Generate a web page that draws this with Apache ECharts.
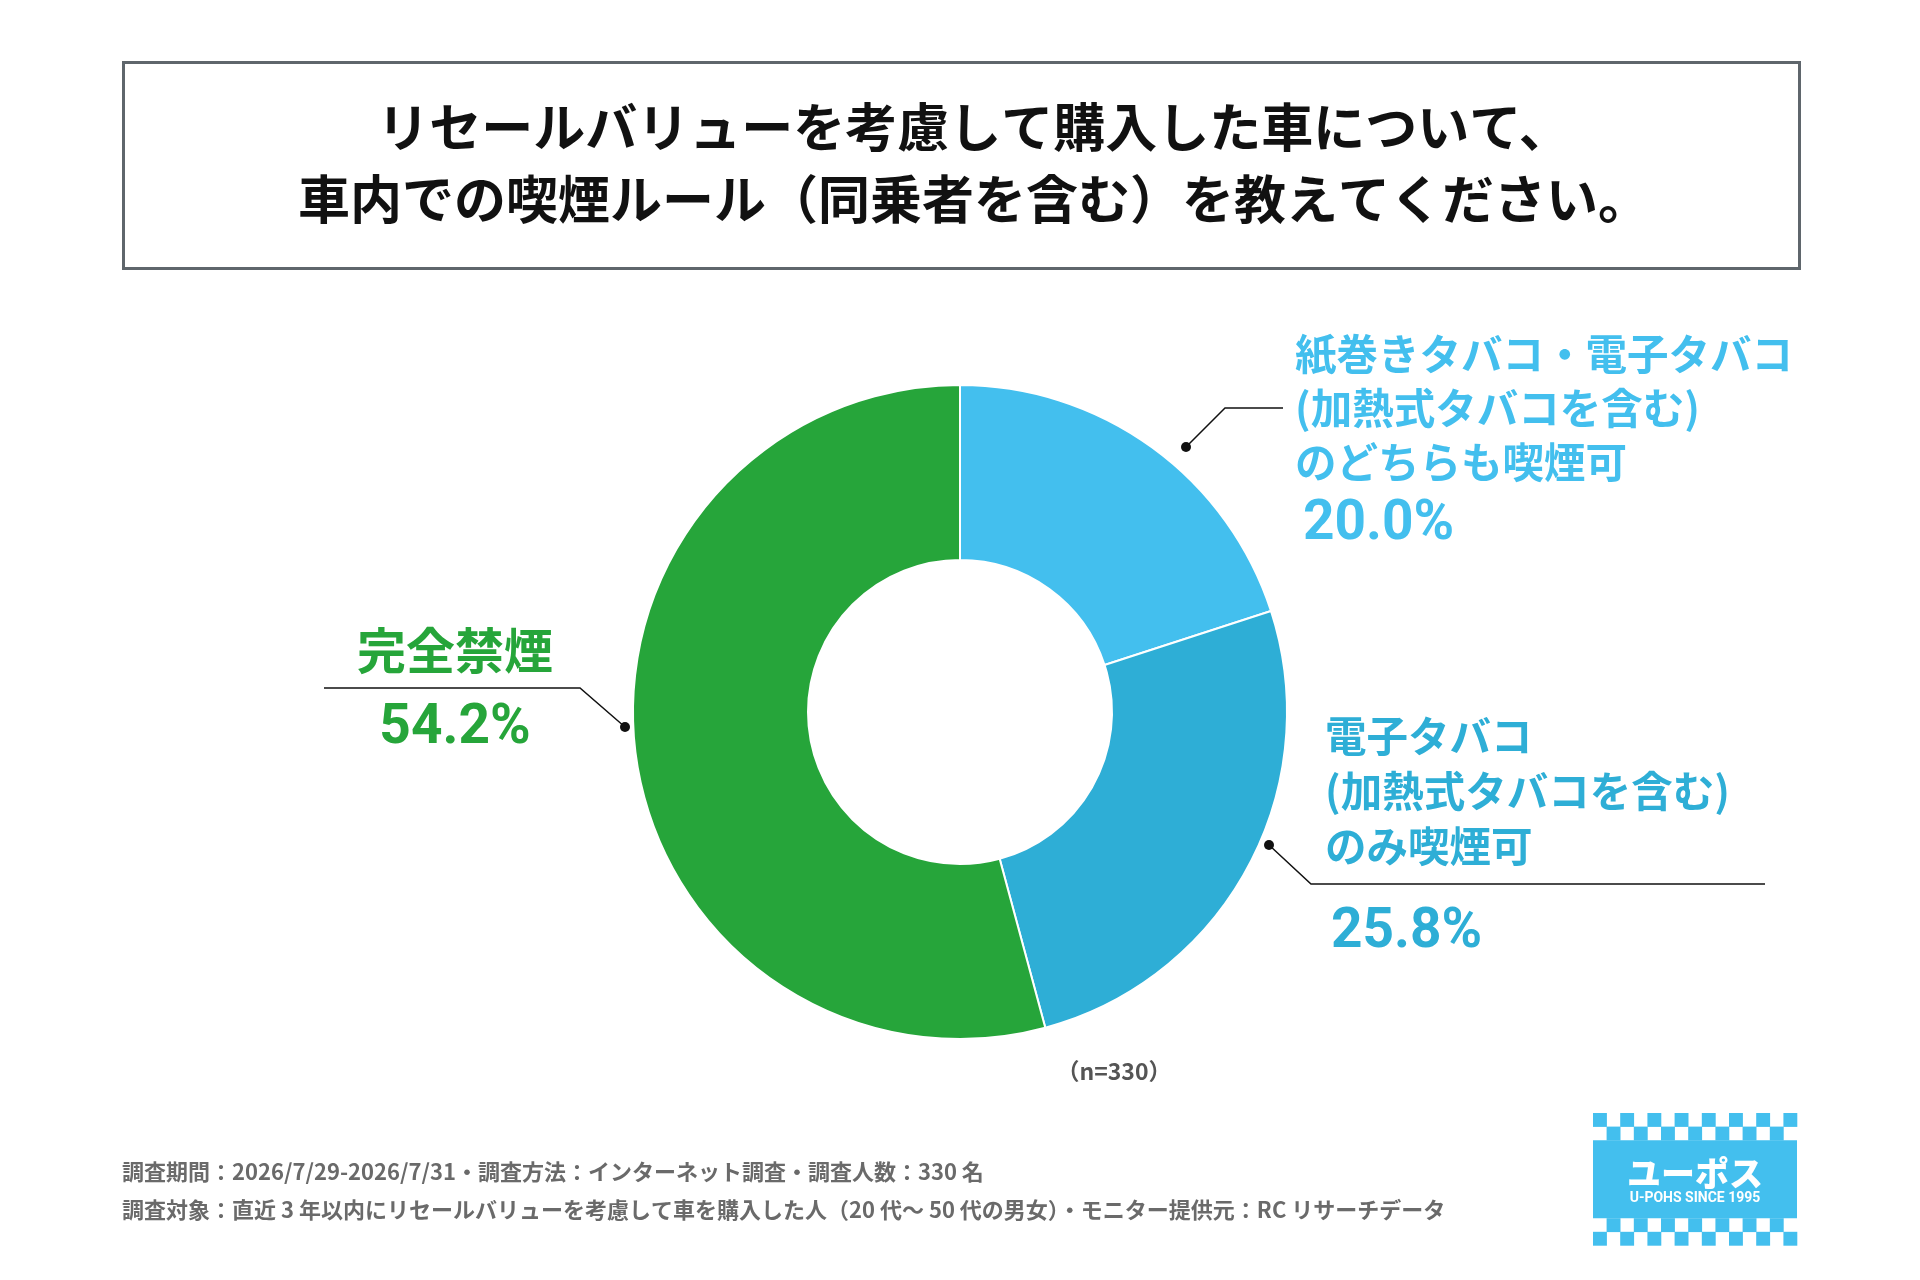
<!DOCTYPE html>
<html lang="ja">
<head>
<meta charset="utf-8">
<title>車内での喫煙ルール</title>
<script src="https://cdn.jsdelivr.net/npm/echarts@6/dist/echarts.min.js"></script>
<style>
  html, body { margin: 0; padding: 0; background: #fff; }
  #main { width: 1920px; height: 1280px; }
</style>
</head>
<body>
<div id="main"></div>
<script>
// ---- data ----
var titleLines = [
  'リセールバリューを考慮して購入した車について、',
  '車内での喫煙ルール（同乗者を含む）を教えてください。'
];
var categories = [
  '紙巻きタバコ・電子タバコ\n(加熱式タバコを含む)\nのどちらも喫煙可',
  '電子タバコ\n(加熱式タバコを含む)\nのみ喫煙可',
  '完全禁煙'
];
var values = [20.0, 25.8, 54.2];
var colors = ['#43bfee', '#2eaed6', '#26a53a'];
var sampleNote = '（n=330）';
var footerLines = [
  '調査期間：2026/7/29-2026/7/31・調査方法：インターネット調査・調査人数：330 名',
  '調査対象：直近 3 年以内にリセールバリューを考慮して車を購入した人（20 代～ 50 代の男女）・モニター提供元：RC リサーチデータ'
];

var FONT = '"Noto Sans CJK JP", "Noto Sans", sans-serif';
var NUMFONT = 'Roboto, "Noto Sans", sans-serif';

// label placement (x, y of text block + leader line points)
var labelPos = [
  { x: 1295, y: 327, align: 'left', nameSize: 41.5, nameLH: 54, pctLH: 73, pctPad: 8,
    line: [[1186, 447], [1225, 408], [1283, 408]] },
  { x: 1325, y: 709, align: 'left', nameSize: 41.5, nameLH: 55, pctLH: 118, pctPad: 6,
    line: [[1269, 845], [1311, 884], [1765, 884]] },
  { x: 455, y: 620, align: 'center', nameSize: 49, nameLH: 60, pctLH: 98, pctPad: 0,
    line: [[625, 727], [580, 688], [324, 688]] }
];

var chart = echarts.init(document.getElementById('main'), null, { renderer: 'canvas' });

var pieData = values.map(function (v, i) {
  var lp = labelPos[i];
  return {
    name: categories[i],
    value: v,
    itemStyle: { color: colors[i] },
    label: {
      rich: {
        n: { fontFamily: FONT, fontWeight: 'bold', fontSize: lp.nameSize, lineHeight: lp.nameLH, color: colors[i] },
        p: { fontFamily: NUMFONT, fontWeight: 'bold', fontSize: 55, lineHeight: lp.pctLH, color: colors[i], padding: [0, 0, 0, lp.pctPad] }
      }
    }
  };
});

var graphics = [];
// title box
graphics.push({
  type: 'rect', left: 122, top: 61,
  shape: { width: 1676, height: 206 },
  style: { fill: '#fff', stroke: '#5f666c', lineWidth: 3 }
});
titleLines.forEach(function (t, i) {
  graphics.push({
    type: 'text', x: 974, y: 127 + i * 72,
    style: { text: t, fill: '#111', font: 'bold 52px ' + FONT, textAlign: 'center', textVerticalAlign: 'middle' }
  });
});
// leader dots
labelPos.forEach(function (lp) {
  graphics.push({
    type: 'circle', shape: { cx: lp.line[0][0], cy: lp.line[0][1], r: 5 },
    style: { fill: '#111' }, z: 10
  });
});
// sample size
graphics.push({
  type: 'text', x: 1114, y: 1071,
  style: { text: sampleNote, fill: '#555', font: 'bold 23px ' + FONT, textAlign: 'center', textVerticalAlign: 'middle' }
});
// footer
footerLines.forEach(function (t, i) {
  graphics.push({
    type: 'text', x: 122, y: 1172 + i * 38,
    style: { text: t, fill: '#6a6a6a', font: 'bold 22px ' + FONT, textAlign: 'left', textVerticalAlign: 'middle' }
  });
});
// logo
(function () {
  var x0 = 1593, y0 = 1113, c = 13.6, cols = 15, band = 78;
  var blue = '#43bfee';
  var rowsY = [y0, y0 + c, y0 + 2 * c + band, y0 + 3 * c + band];
  var parity = [0, 1, 1, 0];
  rowsY.forEach(function (ry, r) {
    for (var k = 0; k < cols; k++) {
      if (k % 2 === parity[r]) {
        graphics.push({ type: 'rect', shape: { x: x0 + k * c, y: ry, width: c + 0.3, height: c + 0.3 }, style: { fill: blue } });
      }
    }
  });
  graphics.push({ type: 'rect', shape: { x: x0, y: y0 + 2 * c, width: cols * c, height: band }, style: { fill: blue } });
  graphics.push({
    type: 'text', x: x0 + cols * c / 2, y: 1173,
    style: { text: 'ユーポス', fill: '#fff', font: '900 34px ' + FONT, textAlign: 'center', textVerticalAlign: 'middle' }
  });
  graphics.push({
    type: 'text', x: x0 + cols * c / 2, y: 1198,
    style: { text: 'U-POHS SINCE 1995', fill: '#fff', font: 'bold 14px ' + NUMFONT, textAlign: 'center', textVerticalAlign: 'middle' }
  });
})();

var option = {
  backgroundColor: '#fff',
  animation: false,
  graphic: graphics,
  series: [{
    type: 'pie',
    center: [960, 712],
    radius: [152, 327],
    startAngle: 90,
    clockwise: true,
    avoidLabelOverlap: false,
    itemStyle: { borderColor: '#fff', borderWidth: 2 },
    emphasis: { disabled: true },
    label: {
      show: true,
      position: 'outside',
      formatter: function (p) {
        var lines = p.name.split('\n').map(function (l) { return '{n|' + l + '}'; });
        return lines.join('\n') + '\n{p|' + p.value.toFixed(1) + '%}';
      }
    },
    labelLine: {
      show: true,
      lineStyle: { color: '#111', width: 1.5 }
    },
    labelLayout: function (params) {
      var lp = labelPos[params.dataIndex];
      return {
        x: lp.x,
        y: lp.y,
        align: lp.align,
        verticalAlign: 'top',
        labelLinePoints: lp.line
      };
    },
    data: pieData
  }]
};

chart.setOption(option);
</script>
</body>
</html>
